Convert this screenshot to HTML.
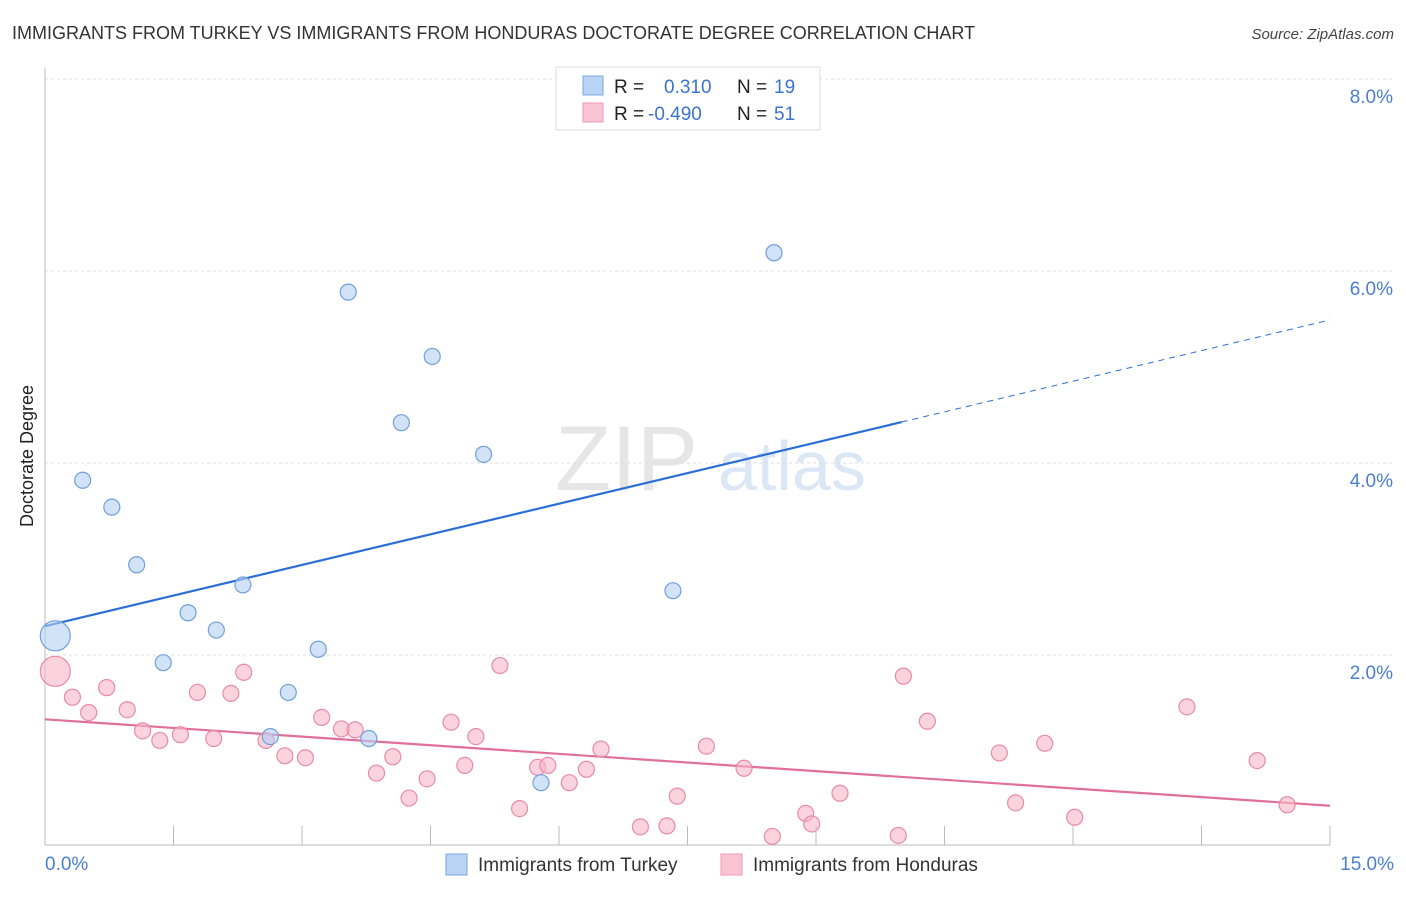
<!DOCTYPE html>
<html><head><meta charset="utf-8"><style>
body{margin:0;background:#fff;font-family:"Liberation Sans",sans-serif;}
svg text{font-family:"Liberation Sans",sans-serif;}
</style></head><body>
<svg id="chart" width="1406" height="892" xmlns="http://www.w3.org/2000/svg">
<text x="12" y="39" font-size="18" fill="#333">IMMIGRANTS FROM TURKEY VS IMMIGRANTS FROM HONDURAS DOCTORATE DEGREE CORRELATION CHART</text>
<text x="1394" y="39" font-size="15" fill="#444" text-anchor="end" font-style="italic">Source: ZipAtlas.com</text>
<text x="555" y="490" font-size="92" fill="#e6e6e6" font-family="Liberation Serif">ZIP</text>
<text x="718" y="490" font-size="70" fill="#dce7f5">atlas</text>
<text transform="translate(33,456) rotate(-90)" font-size="18" fill="#222" text-anchor="middle">Doctorate Degree</text>
<g id="grid"></g><g id="axes"></g><g id="trends"></g><g id="points"></g>
<g>
<rect x="556" y="67" width="264" height="63" fill="#fff" stroke="#ddd"/>
<rect x="583" y="76" width="20" height="19" fill="#b9d3f5" stroke="#7aa7e0"/>
<rect x="583" y="103" width="20" height="19" fill="#fac4d4" stroke="#ee9ab4"/>
<text x="614" y="93" font-size="19" fill="#222">R =</text>
<text x="664" y="93" font-size="19" fill="#3a74cf">0.310</text>
<text x="737" y="93" font-size="19" fill="#222">N =</text>
<text x="774" y="93" font-size="19" fill="#3a74cf">19</text>
<text x="614" y="120" font-size="19" fill="#222">R =</text>
<text x="648" y="120" font-size="19" fill="#3a74cf">-0.490</text>
<text x="737" y="120" font-size="19" fill="#222">N =</text>
<text x="774" y="120" font-size="19" fill="#3a74cf">51</text>
</g>
<g>
<rect x="446" y="854" width="21" height="21" fill="#b9d3f5" stroke="#7aa7e0"/>
<text x="478" y="871" font-size="19" fill="#333">Immigrants from Turkey</text>
<rect x="721" y="854" width="21" height="21" fill="#fac4d4" stroke="#ee9ab4"/>
<text x="753" y="871" font-size="19" fill="#333">Immigrants from Honduras</text>
</g>
</svg>
<script>
const turkeyX=[0.12,0.44,0.78,1.07,1.38,1.67,2.00,2.31,2.84,2.63,3.19,3.54,3.78,4.16,4.52,5.12,5.79,7.33,8.51];
const turkeyY=[2.20,3.82,3.54,2.94,1.92,2.44,2.26,2.73,1.61,1.15,2.06,5.78,1.13,4.42,5.11,4.09,0.67,2.67,6.19];
const hondX=[0.12,0.32,0.51,0.72,0.96,1.14,1.34,1.58,1.78,1.97,2.17,2.32,2.58,2.80,3.04,3.23,3.46,3.62,3.87,4.06,4.25,4.46,4.74,4.90,5.03,5.31,5.54,5.75,5.87,6.12,6.32,6.49,6.95,7.26,7.38,7.72,8.16,8.49,8.88,8.95,9.28,9.96,10.02,10.30,11.14,11.33,11.67,12.02,13.33,14.15,14.50];
const hondY=[1.83,1.56,1.40,1.66,1.43,1.21,1.11,1.17,1.61,1.13,1.60,1.82,1.11,0.95,0.93,1.35,1.23,1.22,0.77,0.94,0.51,0.71,1.30,0.85,1.15,1.89,0.40,0.83,0.85,0.67,0.81,1.02,0.21,0.22,0.53,1.05,0.82,0.11,0.35,0.24,0.56,0.12,1.78,1.31,0.98,0.46,1.08,0.31,1.46,0.90,0.44];
const turkeyTrend=[2.30,5.49];
const hondTrend=[1.33,0.43];
const yTicks=[2,4,6,8];
const yTickLabels=["2.0%","4.0%","6.0%","8.0%"];
const xTicks=[0,1.5,3,4.5,6,7.5,9,10.5,12,13.5,15];
const NS="http://www.w3.org/2000/svg";
const sx=v=>45+v*(1285/15), sy=v=>847-v*96;
function mk(tag,attrs,parent){const e=document.createElementNS(NS,tag);for(const k in attrs)e.setAttribute(k,attrs[k]);document.getElementById(parent).appendChild(e);return e;}
yTicks.forEach((t,i)=>{
 const l=mk('line',{x1:45,x2:1394,y1:sy(t),y2:sy(t),stroke:'#ddd','stroke-dasharray':'3,3'},'grid');
 
 
 const tx=mk('text',{x:1393,y:sy(t)+24,'font-size':19,fill:'#4a7fd0','text-anchor':'end'},'axes');
 tx.textContent=yTickLabels[i];
 
 
});
const ax=mk('line',{x1:45,x2:45,y1:68,y2:845,stroke:'#bbb'},'axes');


const bx=mk('line',{x1:45,x2:1330,y1:845,y2:845,stroke:'#bbb'},'axes');


xTicks.forEach(t=>{
 const l=mk('line',{x1:sx(t),x2:sx(t),y1:826,y2:845,stroke:'#bbb'},'axes');
 
 
});
[[0,"0.0%","start",45],[15,"15.0%","end",1394]].forEach(a=>{
 const t=mk('text',{x:a[3],y:870,'font-size':19,fill:'#4a7fd0','text-anchor':a[2]},'axes');
 t.textContent=a[1];
 
 
});
// trends
const xm=10;
const bt=v=>turkeyTrend[0]+(turkeyTrend[1]-turkeyTrend[0])*v/15;
let l1=mk('line',{x1:sx(0),y1:sy(bt(0)),x2:sx(xm),y2:sy(bt(xm)),stroke:'#2a6fd6','stroke-width':2.2},'trends');


let l2=mk('line',{x1:sx(xm),y1:sy(bt(xm)),x2:sx(15),y2:sy(bt(15)),stroke:'#2a6fd6','stroke-width':1,'stroke-dasharray':'6,5'},'trends');


let l3=mk('line',{x1:sx(0),y1:sy(hondTrend[0]),x2:sx(15),y2:sy(hondTrend[1]),stroke:'#e0709a','stroke-width':2.2},'trends');


function dots(X,Y,fill,stroke,name){
 X.forEach((x,i)=>{
  const c=mk('circle',{cx:sx(x),cy:sy(Y[i]),r:i===0?15:8,fill:fill,'fill-opacity':0.6,stroke:stroke,'stroke-width':1.2},'points');
  
  
 });
}
dots(hondX,hondY,'#f7b5ca','#e98aa8','honduras-point');
dots(turkeyX,turkeyY,'#b4cff2','#6fa0dc','turkey-point');
</script>
</body></html>
